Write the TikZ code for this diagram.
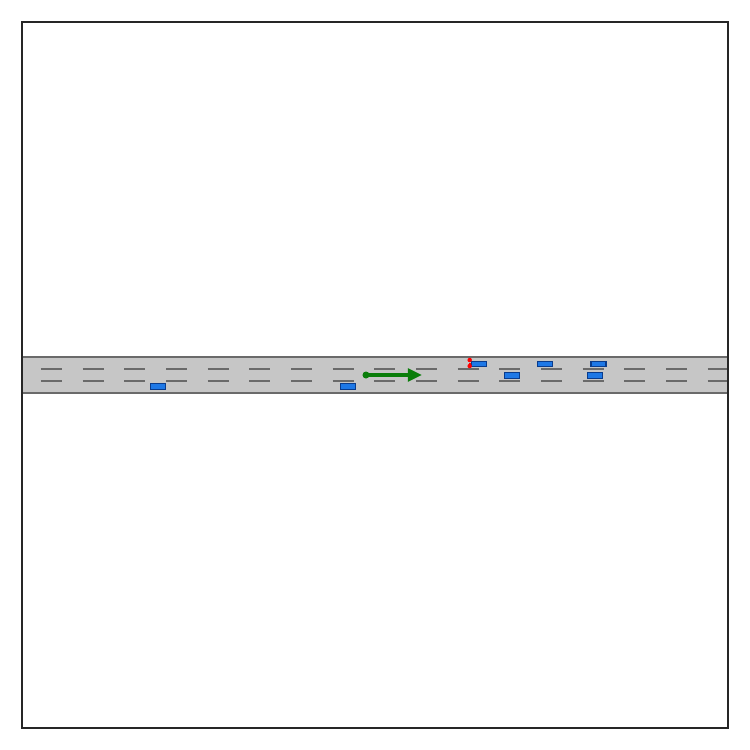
\documentclass[tikz,border=0pt]{standalone}
\usepackage{xcolor}
\usepackage{tikz}
\usetikzlibrary{arrows.meta, positioning}

\definecolor{roadgray}{HTML}{C6C6C6}
\definecolor{edgegray}{HTML}{6A6A6A}
\definecolor{carblue}{HTML}{1E78E6}
\definecolor{cardark}{HTML}{0A3C8C}
\definecolor{egogreen}{HTML}{0A7D0A}

\begin{document}
\begin{tikzpicture}[
    x=0.01cm, y=-0.01cm,
    car/.style={rectangle, draw=cardark, line width=0.3pt, fill=carblue,
                minimum width=0.15cm, minimum height=0.058cm, inner sep=0pt},
    dot/.style={circle, fill=red, inner sep=0pt, minimum size=0.045cm},
    egodot/.style={circle, fill=egogreen, inner sep=0pt, minimum size=0.07cm},
    lanedash/.style={edgegray, line width=0.35pt},
    arrow/.style={-{Triangle[length=4pt, width=3.6pt]}, line width=0.9pt, egogreen}
]
\useasboundingbox (0,0) rectangle (750,750);

% Road
\fill[roadgray] (22,357) rectangle (728,393);
\draw[edgegray, line width=0.35pt] (22,357) -- (728,357);
\draw[edgegray, line width=0.35pt] (22,393) -- (728,393);

% Lane markings
\foreach \k in {0,...,16} {
  \draw[lanedash] ({41+\k*41.67},369) -- ({min(62+\k*41.67,728)},369);
  \draw[lanedash] ({41+\k*41.67},381) -- ({min(62+\k*41.67,728)},381);
}

% Other vehicles
\node[car] (car1) at (158,386.7) {};
\node[car] (car2) at (348,386.5) {};
\node[car] (car3) at (478.7,364) {};
\node[car] (car4) at (512.3,375.3) {};
\node[car] (car5) at (545,364) {};
\node[car] (car6) at (598.5,364) {};
\node[car] (car7) at (595,375.5) {};

% Red markers
\node[dot] (mark1) at (469.7,360) {};
\node[dot] (mark2) at (469.7,366) {};
\draw[red, line width=0.6pt] (mark1) -- (mark2);

% Ego vehicle heading
\node[egodot] (ego) at (366,375) {};
\coordinate (egotip) at (422,375);
\draw[arrow] (ego.center) -- (egotip);

% Frame
\draw[black!85, line width=0.6pt] (22,22) rectangle (728,728);

\end{tikzpicture}
\end{document}
